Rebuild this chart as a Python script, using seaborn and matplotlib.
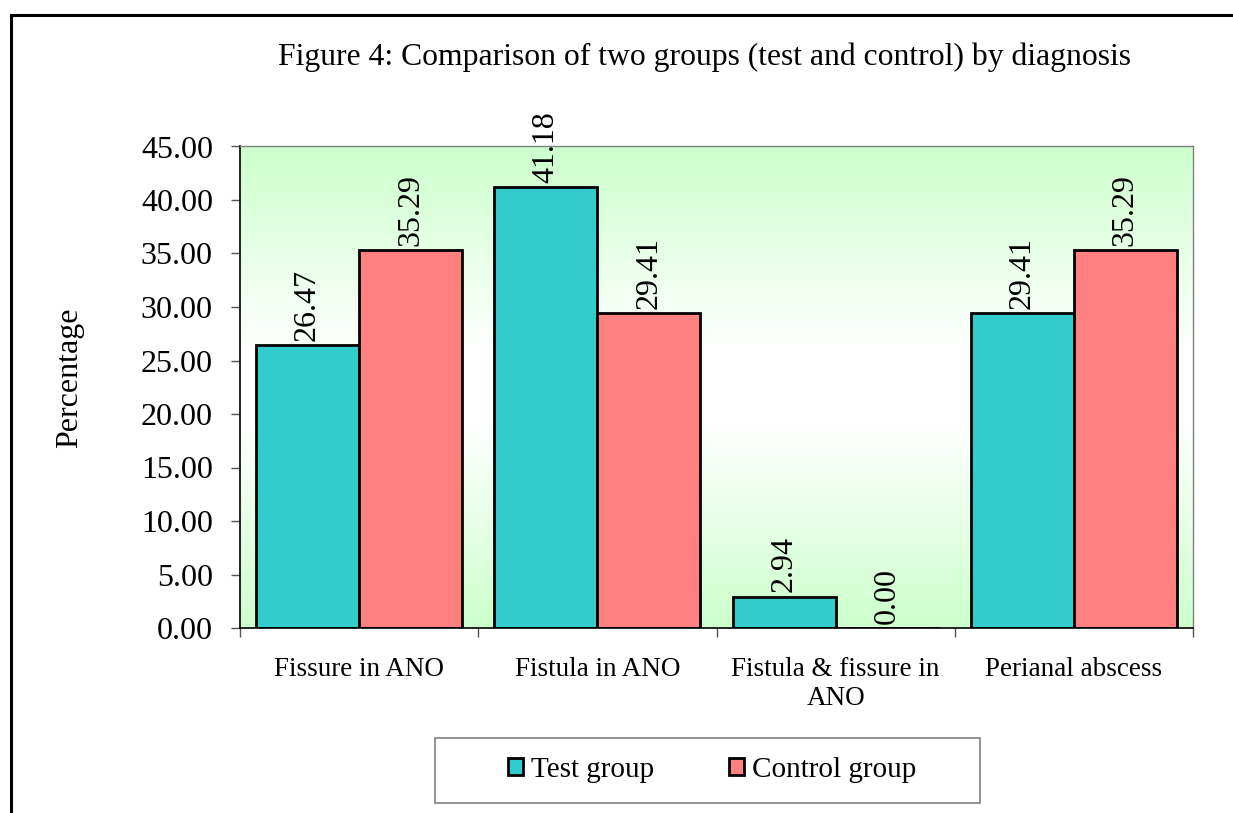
import numpy as np
import pandas as pd
import matplotlib
matplotlib.use("Agg")
import matplotlib.pyplot as plt
import matplotlib.patches as mpatches
from matplotlib.colors import LinearSegmentedColormap
import seaborn as sns

categories = ["Fissure in ANO", "Fistula in ANO", "Fistula & fissure in\nANO", "Perianal abscess"]
groups = ["Test group", "Control group"]
test_values = [26.47, 41.18, 2.94, 29.41]
control_values = [35.29, 29.41, 0.00, 35.29]
y_ticks = [0, 5, 10, 15, 20, 25, 30, 35, 40, 45]
title = "Figure 4: Comparison of two groups (test and control) by diagnosis"
y_label = "Percentage"

df = pd.DataFrame({
    "Diagnosis": categories * 2,
    "Group": [groups[0]] * 4 + [groups[1]] * 4,
    "Value": test_values + control_values,
})

sns.set_theme(style="white")
plt.rcParams["font.family"] = ["Liberation Serif", "DejaVu Serif"]
plt.rcParams["text.color"] = "black"
plt.rcParams["axes.labelcolor"] = "black"
plt.rcParams["xtick.color"] = "black"
plt.rcParams["ytick.color"] = "black"

W, H = 1233, 813
fig = plt.figure(figsize=(W / 100, H / 100), dpi=100)
ax = fig.add_axes([240 / W, 1 - 628 / H, (1193 - 240) / W, (628 - 146.5) / H])

# gradient background (green - white - green)
cmap = LinearSegmentedColormap.from_list(
    "bg", [(0.0, "#CCFFCC"), (0.42, "#FFFFFF"), (0.58, "#FFFFFF"), (1.0, "#CCFFCC")])
grad = np.linspace(0, 1, 256).reshape(-1, 1)
ax.imshow(grad, extent=[0, 1, 0, 1], transform=ax.transAxes, aspect="auto",
          cmap=cmap, origin="lower", zorder=0)

sns.barplot(data=df, x="Diagnosis", y="Value", hue="Group", order=categories,
            hue_order=groups, palette=["#33CCCC", "#FF8080"], width=0.865,
            gap=0, edgecolor="black", linewidth=2, saturation=1, ax=ax, zorder=2)

for cont in ax.containers:
    ax.bar_label(cont, fmt="%.2f", rotation=90, padding=3, fontsize=23, zorder=3)

ax.set_xlim(-0.5, 3.5)
ax.set_ylim(0, 45)
ax.set_yticks(y_ticks)
ax.set_yticklabels([f"{v:.2f}" for v in y_ticks], fontsize=23)
ax.set_xticks(range(len(categories)))
ax.set_xticklabels(categories, fontsize=19.5, linespacing=1.2)
ax.set_xticks([-0.5, 0.5, 1.5, 2.5, 3.5], minor=True)
ax.tick_params(axis="x", which="major", length=0, pad=21)
ax.tick_params(axis="x", which="minor", length=6.5, width=1, color="#555555", direction="out", bottom=True)
ax.tick_params(axis="y", length=6.5, width=1, color="#555555", direction="out", left=True, pad=13)
ax.set_xlabel("")
ax.set_ylabel("")

for s in ["left", "bottom"]:
    ax.spines[s].set_color("black")
    ax.spines[s].set_linewidth(1.2)
for s in ["top", "right"]:
    ax.spines[s].set_color("#808080")
    ax.spines[s].set_linewidth(1)

fig.text(70 / W, 1 - 378 / H, y_label, rotation=90, ha="center", va="center", fontsize=23)
fig.text(705 / W, 1 - 57 / H, title, ha="center", va="center", fontsize=22.8)

handles, labels = ax.get_legend_handles_labels()
ax.get_legend().remove()
leg = fig.legend(handles, labels, loc="center", bbox_to_anchor=(712 / W, 1 - 770 / H),
                 ncol=2, fontsize=21, frameon=False,
                 handlelength=0.52, handleheight=0.52, handletextpad=0.27,
                 columnspacing=2.55, borderpad=0.3)
for h in leg.legend_handles:
    h.set_edgecolor("black")
    h.set_linewidth(2)

leg_frame = mpatches.Rectangle((435 / W, 1 - 803 / H), (980 - 435) / W, (803 - 738) / H,
                               transform=fig.transFigure, fill=False, edgecolor="#808080",
                               linewidth=1.2)
fig.patches.append(leg_frame)

border = mpatches.Rectangle((11 / W, -0.1), 1.2, 1.1 - 15.5 / H,
                            transform=fig.transFigure, fill=False, edgecolor="black",
                            linewidth=2.2, clip_on=False)
fig.patches.append(border)

fig.savefig("out.png", dpi=100, facecolor="white")
